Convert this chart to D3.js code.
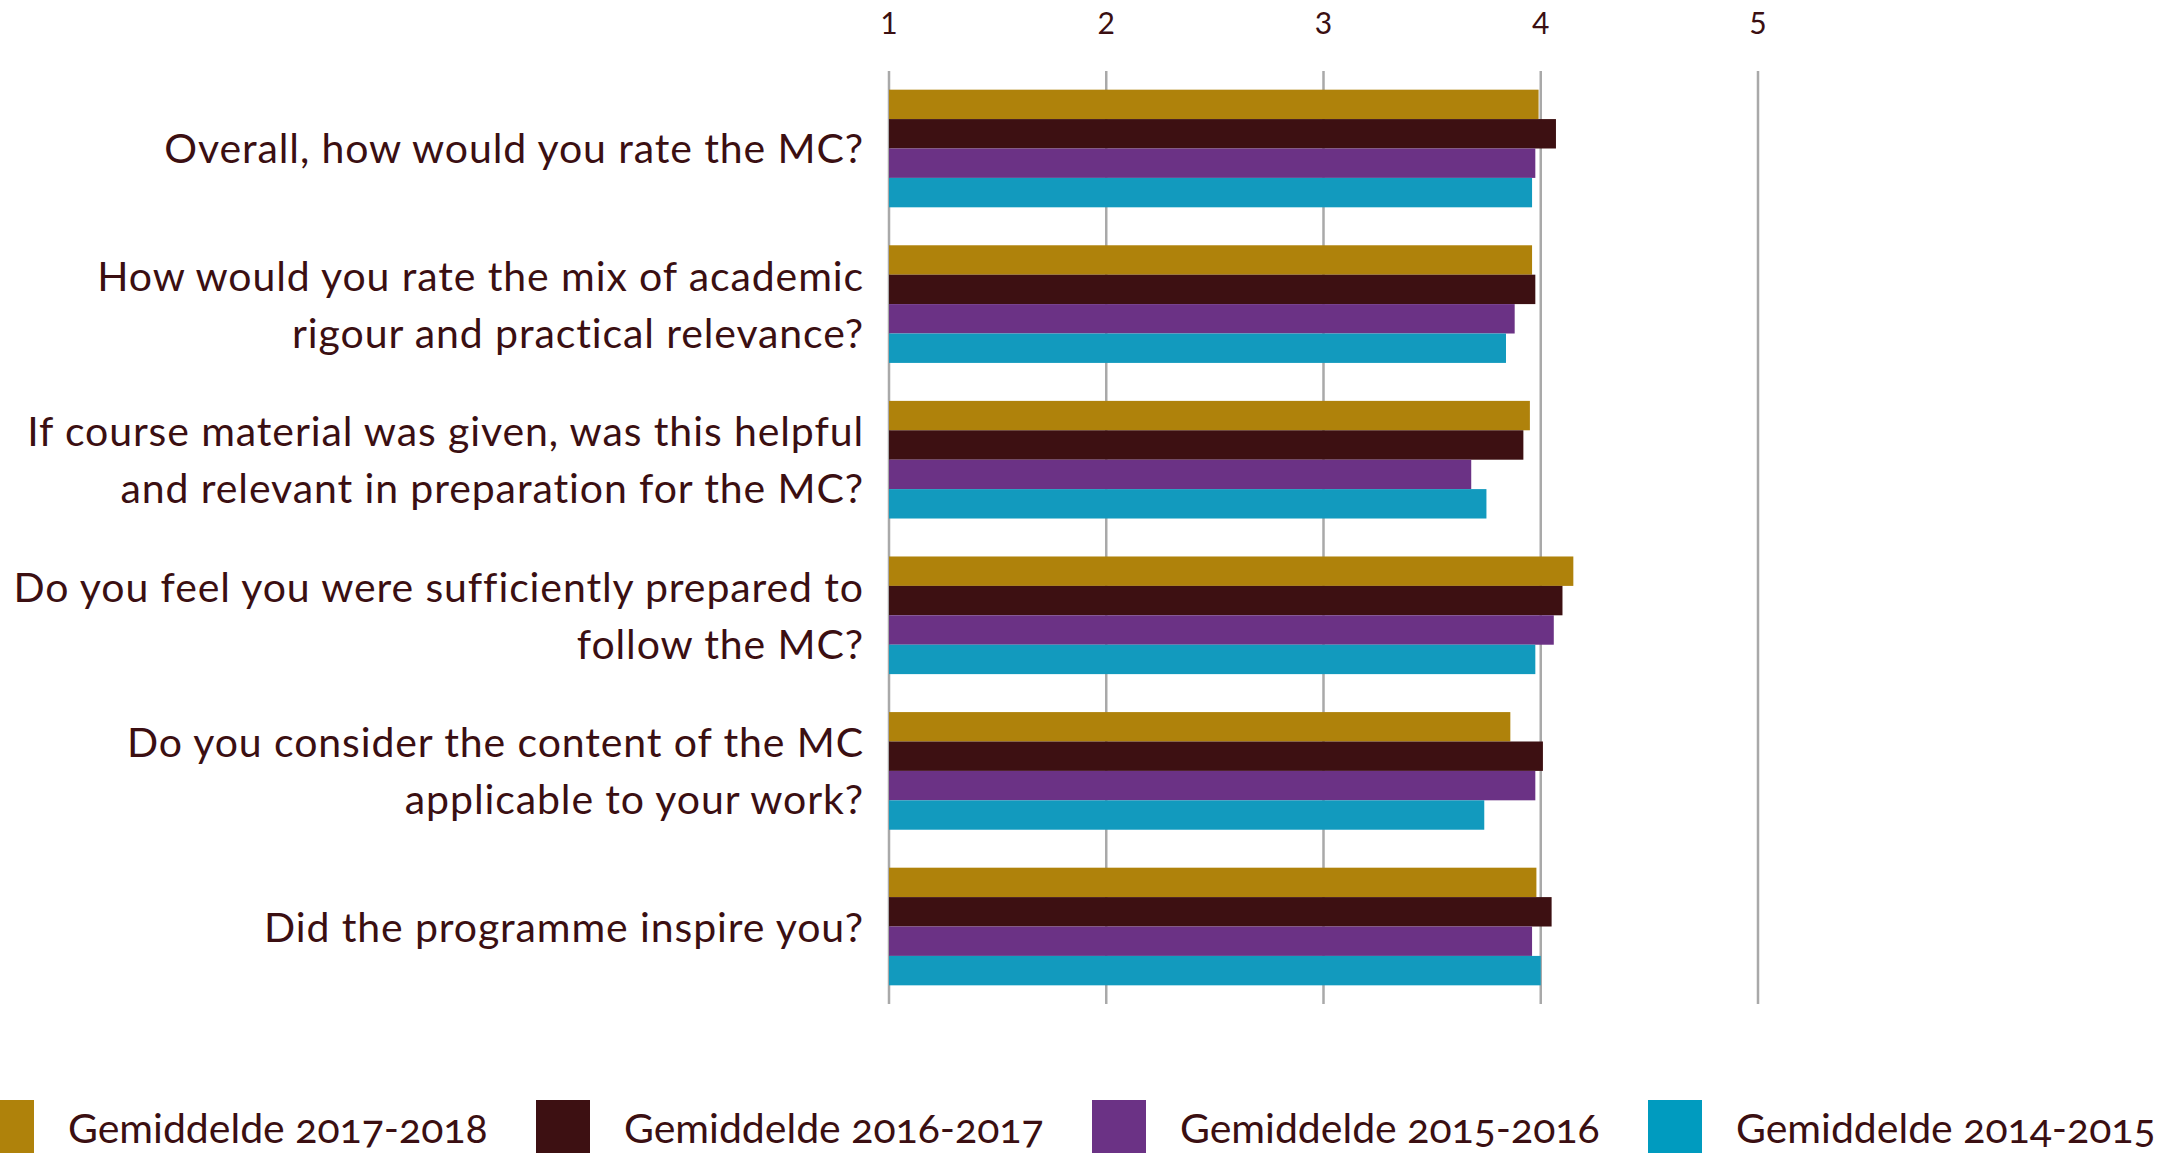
<!DOCTYPE html>
<html>
<head>
<meta charset="utf-8">
<script src="https://cdn.jsdelivr.net/npm/d3@7"></script>
<style>
  html, body { margin: 0; padding: 0; background: #fff; overflow: hidden; }
  text { font-family: Lato, Roboto, sans-serif; fill: #3b0f12; font-variant-numeric: oldstyle-nums; }
  .tick-label { font-variant-numeric: lining-nums; }
</style>
</head>
<body>
<div id="chart"></div>
<script>
// questions, top to bottom, already split in lines as in the picture
const questions = [
  ['Overall, how would you rate the MC?'],
  ['How would you rate the mix of academic', 'rigour and practical relevance?'],
  ['If course material was given, was this helpful', 'and relevant in preparation for the MC?'],
  ['Do you feel you were sufficiently prepared to', 'follow the MC?'],
  ['Do you consider the content of the MC', 'applicable to your work?'],
  ['Did the programme inspire you?']
];
const series = ['Gemiddelde 2017-2018', 'Gemiddelde 2016-2017', 'Gemiddelde 2015-2016', 'Gemiddelde 2014-2015'];
const avg_2017_2018 = [3.99, 3.96, 3.95, 4.15, 3.86, 3.98];
const avg_2016_2017 = [4.07, 3.975, 3.92, 4.10, 4.01, 4.05];
const avg_2015_2016 = [3.975, 3.88, 3.68, 4.06, 3.975, 3.96];
const avg_2014_2015 = [3.96, 3.84, 3.75, 3.975, 3.74, 4.00];
const ticks = [1, 2, 3, 4, 5];

const bar_colors = ['#af820b', '#3d1012', '#6b3285', '#129abe'];
const key_colors = ['#af820b', '#3d1012', '#6b3285', '#009bbf'];

const values = [avg_2017_2018, avg_2016_2017, avg_2015_2016, avg_2014_2015];
const rows = questions.map((q, i) => ({
  lines: q,
  vals: series.map((s, j) => ({ s: s, v: values[j][i] }))
}));

const W = 2162, H = 1153;
const svg = d3.select('#chart').append('svg').attr('width', W).attr('height', H);

const x = d3.scaleLinear([1, 5], [889, 1758]);
const y0 = d3.scaleBand(d3.range(questions.length), [71, 1004]).paddingInner(0.244).paddingOuter(0.12);
const y1 = d3.scaleBand(series, [0, y0.bandwidth()]);
const color = d3.scaleOrdinal(series, bar_colors);

// grid
svg.append('g').selectAll('line').data(ticks).join('line')
   .attr('x1', d => x(d)).attr('x2', d => x(d))
   .attr('y1', 71).attr('y2', 1004)
   .attr('stroke', '#a9a9a9').attr('stroke-width', 2.5)

// top tick labels
svg.append('g').selectAll('text').data(ticks).join('text')
   .attr('class', 'tick-label')
   .attr('x', d => x(d)).attr('y', 34)
   .attr('text-anchor', 'middle').attr('font-size', 30)
   .text(d => d)

// bars
const groups = svg.append('g').selectAll('g').data(rows).join('g')
   .attr('transform', (d, i) => `translate(0,${y0(i)})`)
groups.selectAll('rect').data(d => d.vals).join('rect')
   .attr('x', x(1))
   .attr('y', d => y1(d.s))
   .attr('width', d => x(d.v) - x(1))
   .attr('height', y1.bandwidth())
   .attr('fill', d => color(d.s))

// category labels
const lh = 57;
svg.append('g').selectAll('text').data(rows).join('text')
   .attr('text-anchor', 'end').attr('font-size', 41).attr('letter-spacing', 0.9)
   .attr('transform', (d, i) => `translate(864,${y0(i) + y0.bandwidth() / 2 + 15})`)
   .selectAll('tspan').data(d => d.lines.map((l, k) => ({ l, k, n: d.lines.length }))).join('tspan')
   .attr('x', 0)
   .attr('y', d => (d.k - (d.n - 1) / 2) * lh)
   .text(d => d.l)

// legend
const legend = svg.append('g').selectAll('g').data(series).join('g')
   .attr('transform', (d, i) => `translate(${-20 + i * 556},1100)`)
legend.append('rect').attr('width', 54).attr('height', 60).attr('fill', (d, i) => key_colors[i])
legend.append('text').attr('x', 88).attr('y', 43).attr('font-size', 41).text(d => d)
</script>
</body>
</html>
